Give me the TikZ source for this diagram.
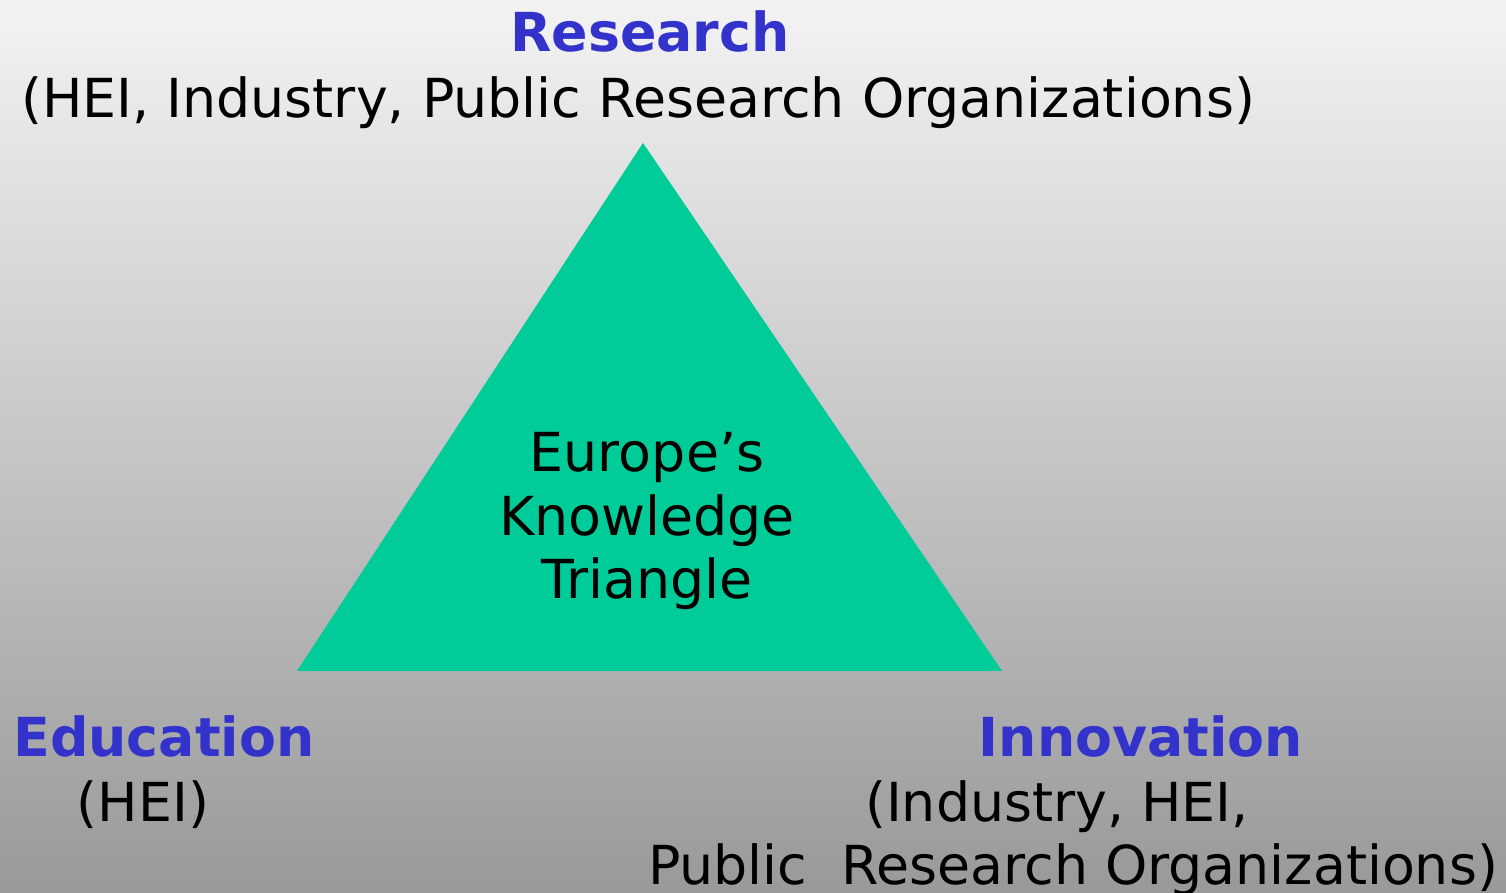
\documentclass[tikz,border=0pt]{standalone}
\usepackage{fontspec}
\setmainfont{DejaVu Sans}
\usetikzlibrary{positioning}
\definecolor{cblue}{HTML}{3333CC}
\definecolor{cgreen}{HTML}{00CC99}
\definecolor{ctop}{HTML}{F3F3F3}
\definecolor{cbottom}{HTML}{999999}
\tikzset{
  every picture/.style={font=\fontsize{15.3}{18.2}\selectfont},
  head/.style={text=cblue, font=\fontsize{15.3}{18.2}\selectfont\bfseries, inner sep=0pt, anchor=base},
  sub/.style={text=black, inner sep=0pt, anchor=base, align=center},
}

\begin{document}
\begin{tikzpicture}
  \shade[top color=ctop, bottom color=cbottom] (0,0) rectangle (15.06,8.93);
  \useasboundingbox (0,0) rectangle (15.06,8.93);
  % the triangle
  \coordinate (apex) at (6.43,7.50);
  \coordinate (left) at (2.97,2.22);
  \coordinate (right) at (10.02,2.22);
  \fill[cgreen] (apex) -- (left) -- (right) -- cycle;
  \node[sub] (core) at (6.47,2.94) {Europe’s\\Knowledge\\Triangle};
  % corners
  \node[head] (research) at (6.50,8.41) {Research};
  \node[sub] (researchsub) at (6.38,7.75) {(HEI, Industry, Public Research Organizations)};
  \node[head] (education) at (1.64,1.36) {Education};
  \node[sub] (educationsub) at (1.43,0.71) {(HEI)};
  \node[head] (innovation) at (11.41,1.36) {Innovation};
  \node[sub] (innovationsub) at (10.57,0.71) {(Industry, HEI,};
  \node[sub] (innovationsubb) at (10.73,0.08) {Public\ \ Research Organizations)};
\end{tikzpicture}
\end{document}
